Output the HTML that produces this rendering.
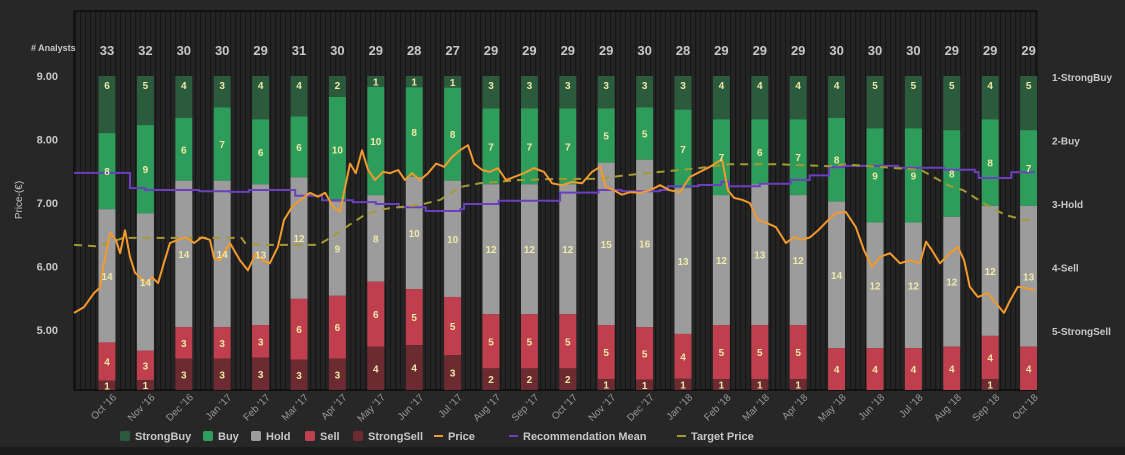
<!DOCTYPE html>
<html><head><meta charset="utf-8"><style>
html,body{margin:0;padding:0;background:#262626;width:1125px;height:455px;overflow:hidden}
svg{display:block;font-family:"Liberation Sans",sans-serif}
</style></head><body>
<svg id="chart" width="1125" height="455">
<defs>
<pattern id="stripes" width="5" height="10" patternUnits="userSpaceOnUse">
<rect width="5" height="10" fill="#242424"/><rect width="1.2" height="10" fill="#161616"/>
</pattern>
</defs>
<rect x="0" y="0" width="1125" height="447" fill="#272727"/>
<rect x="0" y="447" width="1125" height="8" fill="#1c1c1c"/>
<rect x="74" y="11" width="963" height="379" fill="url(#stripes)"/>
<line x1="74" y1="11" x2="1037" y2="11" stroke="#0c0c0c" stroke-width="1.5"/>
<line x1="74" y1="11" x2="74" y2="390" stroke="#0c0c0c" stroke-width="1.5"/>
<line x1="1037" y1="11" x2="1037" y2="390" stroke="#0c0c0c" stroke-width="1"/>
<line x1="74" y1="390" x2="1037" y2="390" stroke="#0c0c0c" stroke-width="1.5"/>
<g id="bars"></g><g id="lines"></g><g id="labels"></g><g id="axes"></g><g id="legend"></g>
</svg>
<script>
const months=["Oct '16","Nov '16","Dec '16","Jan '17","Feb '17","Mar '17","Apr '17","May '17","Jun '17","Jul '17","Aug '17","Sep '17","Oct '17","Nov '17","Dec '17","Jan '18","Feb '18","Mar '18","Apr '18","May '18","Jun '18","Jul '18","Aug '18","Sep '18","Oct '18"];
const strongBuy=[6,5,4,3,4,4,2,1,1,1,3,3,3,3,3,3,4,4,4,4,5,5,5,4,5];
const buy=[8,9,6,7,6,6,10,10,8,8,7,7,7,5,5,7,7,6,7,8,9,9,8,8,7];
const hold=[14,14,14,14,13,12,9,8,10,10,12,12,12,15,16,13,12,13,12,14,12,12,12,12,13];
const sell=[4,3,3,3,3,6,6,6,5,5,5,5,5,5,5,4,5,5,5,4,4,4,4,4,4];
const strongSell=[1,1,3,3,3,3,3,4,4,3,2,2,2,1,1,1,1,1,1,0,0,0,0,1,0];
const priceTicks=[5,6,7,8,9];
const recTicks=["1-StrongBuy","2-Buy","3-Hold","4-Sell","5-StrongSell"];
const priceT=[-0.86,-0.6,-0.34,-0.18,-0.08,0.08,0.23,0.34,0.47,0.6,0.73,0.86,1.02,1.17,1.33,1.48,1.64,1.85,2.06,2.27,2.47,2.68,2.79,2.94,3.2,3.46,3.67,3.88,4.04,4.24,4.45,4.61,4.82,5.03,5.29,5.49,5.68,5.89,6.07,6.2,6.33,6.48,6.64,6.8,6.98,7.19,7.37,7.58,7.76,7.94,8.15,8.36,8.57,8.78,8.98,9.19,9.4,9.56,9.77,9.97,10.18,10.39,10.6,10.86,11.12,11.38,11.59,11.85,12.11,12.37,12.63,12.84,12.99,13.2,13.41,13.62,13.88,14.14,14.4,14.66,14.92,15.18,15.44,15.7,15.91,16.02,16.17,16.33,16.54,16.74,16.95,17.16,17.42,17.68,17.89,18.1,18.31,18.52,18.78,18.98,19.24,19.5,19.71,19.92,20.13,20.39,20.65,20.91,21.17,21.33,21.48,21.69,21.95,22.16,22.32,22.47,22.68,22.94,23.15,23.36,23.52,23.72,23.93,24.17];
const price=[5.27,5.36,5.58,5.67,6.05,6.53,6.42,6.21,6.57,6.15,5.9,5.83,5.74,5.83,5.74,6.05,6.37,6.42,6.46,6.37,6.46,6.42,6.13,6.1,6.37,6.1,5.94,6.21,6.1,6.05,6.31,6.73,6.94,7.05,7.16,7.1,7.16,6.94,6.86,7.25,7.62,7.47,7.83,7.52,7.36,7.49,7.47,7.52,7.36,7.47,7.36,7.47,7.62,7.57,7.72,7.83,7.91,7.62,7.52,7.49,7.55,7.36,7.41,7.47,7.55,7.49,7.31,7.28,7.33,7.31,7.49,7.57,7.25,7.2,7.13,7.17,7.16,7.2,7.28,7.2,7.17,7.41,7.49,7.57,7.65,7.68,7.2,7.08,7.05,7.0,6.73,6.69,6.62,6.37,6.46,6.42,6.46,6.57,6.73,6.84,6.86,6.62,6.26,5.99,6.15,6.21,6.05,6.1,6.05,6.39,6.26,6.05,6.21,6.31,6.1,5.68,5.52,5.58,5.42,5.27,5.47,5.68,5.66,5.63];
const recT=[-0.86,0.55,0.6,1.0,1.4,2.4,3.2,3.7,4.9,5.1,5.6,6.4,7.0,7.6,7.9,8.3,8.6,9.2,9.3,10.2,11.8,12.8,13.4,14.4,14.6,15.4,16.0,16.2,17.0,17.8,18.3,18.8,19.2,20.6,21.8,22.6,22.7,23.5,23.55,24.17];
const recMean=[2.51,2.51,2.75,2.78,2.78,2.8,2.81,2.78,2.87,2.87,2.94,2.97,3.0,3.05,3.05,3.11,3.11,3.08,3.0,2.95,2.82,2.78,2.8,2.78,2.72,2.7,2.65,2.72,2.68,2.62,2.55,2.42,2.4,2.43,2.46,2.5,2.59,2.59,2.5,2.5];
const targetT=[-0.86,-0.3,0.05,0.47,0.6,3.5,3.6,4.0,5.5,5.9,6.3,6.7,7.1,7.37,8.15,8.68,9.19,9.7,10.7,11.7,12.8,13.4,14.4,15.4,16.2,17.5,18.8,19.2,21.2,21.9,22.3,22.9,23.4,23.9,24.17];
const targetPrice=[6.34,6.32,6.37,6.46,6.45,6.45,6.37,6.34,6.34,6.48,6.65,6.81,6.89,6.92,6.97,7.05,7.25,7.31,7.36,7.38,7.38,7.43,7.49,7.55,7.61,7.61,7.58,7.61,7.52,7.28,7.2,6.97,6.81,6.73,6.76];

const NS="http://www.w3.org/2000/svg";
const X0=107,DX=38.4,BW=17,BTOP=76,BBOT=390;
function xOf(t){return X0+t*DX;}
function yPrice(p){return 76+(9-p)*63.5;}
function yRec(r){return 77+(r-1)*63.5;}
function mk(tag,attrs,parent){const e=document.createElementNS(NS,tag);for(const k in attrs)e.setAttribute(k,attrs[k]);parent.appendChild(e);return e;}
const bars=document.getElementById('bars'),labels=document.getElementById('labels'),axes=document.getElementById('axes'),lines=document.getElementById('lines'),legend=document.getElementById('legend');
const series=[[strongBuy,"#2b5a3d","strongbuy"],[buy,"#2e9d5b","buy"],[hold,"#9c9c9c","hold"],[sell,"#c03f4f","sell"],[strongSell,"#6b2b31","strongsell"]];
months.forEach((m,i)=>{
  const tot=strongBuy[i]+buy[i]+hold[i]+sell[i]+strongSell[i];
  const cx=xOf(i);let y=BTOP;
  series.forEach(([arr,col,nm])=>{
    const h=arr[i]/tot*(BBOT-BTOP);
    if(arr[i]>0){
      const r=mk('rect',{x:cx-BW/2,y:y,width:BW,height:h,fill:col},bars);
      
      
      const t=mk('text',{x:cx,y:Math.min(y+13,y+h/2+4),'text-anchor':'middle','font-size':'10','font-weight':'bold',fill:'#eeeaa8'},labels);
      if(nm==='buy'||nm==='hold'||nm==='sell') t.setAttribute('y',(y+h/2+4).toFixed(1));
      if(nm==='strongsell') t.setAttribute('y',(Math.max(y+h/2+4,y+9)).toFixed(1));
      t.textContent=arr[i];
      
      
    }
    y+=h;
  });
  const c=mk('text',{x:cx,y:55,'text-anchor':'middle','font-size':'13','font-weight':'bold',fill:'#c8c8c8'},axes);
  c.textContent=tot;
  
  
  const lx=cx+10,ly=398;
  const xl=mk('text',{x:lx,y:ly,'text-anchor':'end','font-size':'10',fill:'#9a9a9a',transform:`rotate(-45 ${lx} ${ly})`},axes);
  xl.textContent=m;
  
  
});
function path(ts,vs,yf,attrs,name){
  let d='';ts.forEach((t,i)=>{d+=(i?'L':'M')+xOf(t).toFixed(1)+' '+yf(vs[i]).toFixed(1);});
  const p=mk('path',Object.assign({d:d,fill:'none'},attrs),lines);
  
  
}
// step path for rec mean
let rd='';recT.forEach((t,i)=>{const x=xOf(t).toFixed(1),y=yRec(recMean[i]).toFixed(1);rd+=i?`H${x}V${y}`:`M${x} ${y}`;});
const rp=mk('path',{d:rd,fill:'none',stroke:'#6a3fc0','stroke-width':'2'},lines);


path(targetT,targetPrice,yPrice,{stroke:'#a39a32','stroke-width':'2','stroke-dasharray':'8 6'},'target-price-line');
path(priceT,price,yPrice,{stroke:'#f29a2e','stroke-width':'2','stroke-linejoin':'round'},'price-line');
priceTicks.forEach(p=>{
  const t=mk('text',{x:58,y:yPrice(p)+4,'text-anchor':'end','font-size':'11','font-weight':'bold',fill:'#c8c8c8'},axes);
  t.textContent=p.toFixed(2);
  
  
});
recTicks.forEach((r,i)=>{
  const t=mk('text',{x:1052,y:yRec(i+1)+4,'font-size':'10','font-weight':'bold',fill:'#c8c8c8'},axes);
  t.textContent=r;
  
  
});
const yt=mk('text',{x:22,y:200,'text-anchor':'middle','font-size':'10',fill:'#c8c8c8',transform:'rotate(-90 22 200)'},axes);
yt.textContent='Price-(€)';


const an=mk('text',{x:31,y:51,'font-size':'9','font-weight':'bold',fill:'#c8c8c8'},axes);
an.textContent='# Analysts';


const leg=[["StrongBuy","#2b5a3d",120,"sq"],["Buy","#2e9d5b",203,"sq"],["Hold","#9c9c9c",251,"sq"],["Sell","#c03f4f",305,"sq"],["StrongSell","#6b2b31",353,"sq"],["Price","#f29a2e",433,"ln"],["Recommendation Mean","#6a3fc0",508,"ln"],["Target Price","#a39a32",676,"ln"]];
leg.forEach(([n,c,x,k])=>{
  const g=mk('g',{},legend);
  
  
  if(k==='sq')mk('rect',{x:x,y:431,width:10,height:10,rx:2,fill:c},g);
  else mk('rect',{x:x+1,y:435,width:9,height:2,fill:c},g);
  const t=mk('text',{x:x+15,y:440,'font-size':'11','font-weight':'bold',fill:'#c8c8c8'},g);
  t.textContent=n;
});
</script>
</body></html>
